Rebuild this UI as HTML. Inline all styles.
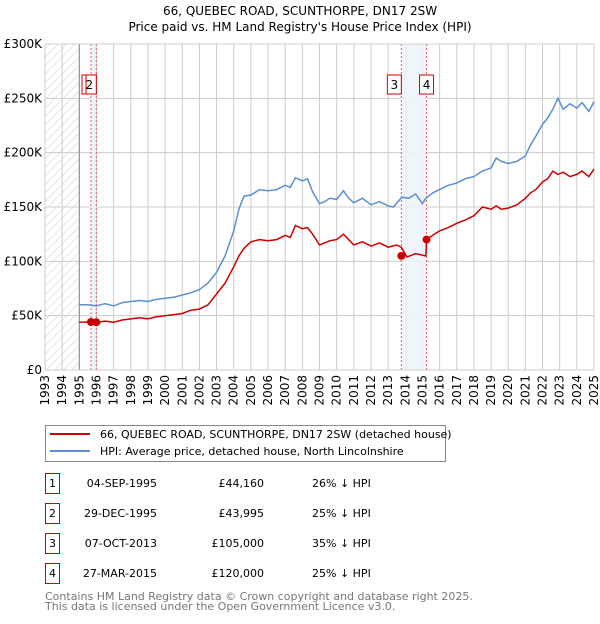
<!DOCTYPE html>
<html><head><meta charset="utf-8"><style>
body{margin:0;background:#fff;width:600px;height:620px;overflow:hidden;font-family:"DejaVu Sans","Liberation Sans",sans-serif}
svg text{font-family:"DejaVu Sans","Liberation Sans",sans-serif}
</style></head><body>
<svg id="c" width="600" height="620"></svg>
<script>
const years=[1993,1995,1997,1999,2001,2003,2005,2007,2009,2011,2013,2015,2017,2019,2021,2023,2025];
const yTicks=[0,50,100,150,200,250,300];
const hpiX=[1995,1995.5,1996,1996.5,1997,1997.5,1998,1998.5,1999,1999.5,2000,2000.5,2001,2001.5,2002,2002.5,2003,2003.5,2004,2004.3,2004.6,2005,2005.5,2006,2006.5,2007,2007.3,2007.6,2008,2008.3,2008.6,2009,2009.3,2009.6,2010,2010.4,2010.7,2011,2011.5,2012,2012.5,2013,2013.3,2013.8,2014.2,2014.6,2015,2015.2,2015.6,2016,2016.5,2017,2017.5,2018,2018.5,2019,2019.3,2019.6,2020,2020.5,2021,2021.3,2021.6,2022,2022.3,2022.6,2022.9,2023.2,2023.6,2024,2024.3,2024.7,2025];
const hpiY=[60,60,59,61,59,62,63,64,63,65,66,67,69,71,74,80,90,105,128,148,160,161,166,165,166,170,168,177,174,176,164,153,155,158,157,165,158,154,158,152,155,151,150,159,158,162,153,158,163,166,170,172,176,178,183,186,195,192,190,192,197,207,215,226,232,240,250,240,245,241,246,238,247];
const ppX=[1995,1995.68,1996,1996.5,1997,1997.5,1998,1998.5,1999,1999.5,2000,2000.5,2001,2001.5,2002,2002.5,2003,2003.5,2004,2004.3,2004.6,2005,2005.5,2006,2006.5,2007,2007.3,2007.6,2008,2008.3,2008.6,2009,2009.3,2009.6,2010,2010.4,2010.7,2011,2011.5,2012,2012.5,2013,2013.5,2013.76,2014.1,2014.6,2015.2,2015.24,2015.6,2016,2016.5,2017,2017.5,2018,2018.5,2019,2019.3,2019.6,2020,2020.5,2021,2021.3,2021.6,2022,2022.3,2022.6,2022.9,2023.2,2023.6,2024,2024.3,2024.7,2025];
const ppY=[44,44.2,44,45,44,46,47,48,47,49,50,51,52,55,56,60,70,80,95,105,112,118,120,119,120,124,122,133,130,131,125,115,117,119,120,125,120,115,118,114,117,113,115,113,104,107,105,120,124,128,131,135,138,142,150,148,151,148,149,152,158,163,166,173,176,183,180,182,178,180,183,178,185];
const saleX=[1995.68,1995.99,2013.77,2015.24];
const saleY=[44.16,43.995,105,120];
const saleLabels=["1","2","3","4"];
const L=45,R=594,T=44,B=370;
const x=v=>L+(v-1993)/(2025-1993)*(R-L);
const y=v=>B-v/300*(B-T);
const NS="http://www.w3.org/2000/svg";
const svg=document.getElementById('c');
function mk(t,a,p){const e=document.createElementNS(NS,t);for(const k in a)e.setAttribute(k,a[k]);(p||svg).appendChild(e);return e;}
const defs=mk('defs',{});
const pat=mk('pattern',{id:'h',width:6,height:6,patternUnits:'userSpaceOnUse',patternTransform:'rotate(45)'},defs);
mk('line',{x1:0,y1:0,x2:0,y2:6,stroke:'#ccc','stroke-width':1},pat);
let t=mk('text',{x:300,y:15,'text-anchor':'middle','font-size':12,fill:'#000'});t.textContent="66, QUEBEC ROAD, SCUNTHORPE, DN17 2SW";

t=mk('text',{x:300,y:31,'text-anchor':'middle','font-size':12,fill:'#000'});t.textContent="Price paid vs. HM Land Registry's House Price Index (HPI)";

let hr=mk('rect',{x:L,y:T,width:x(1995)-L,height:B-T,fill:'url(#h)'});

for(let yr=1993;yr<=2025;yr++){const g=mk('line',{x1:x(yr),x2:x(yr),y1:T,y2:B,stroke:'#ccc','stroke-width':1});}
yTicks.forEach(v=>{const g=mk('line',{x1:L,x2:R,y1:y(v),y2:y(v),stroke:'#ccc','stroke-width':1});
const tl=mk('text',{x:L-3,y:y(v)+4,'text-anchor':'end','font-size':12,fill:'#000'});tl.textContent=v===0?'£0':'£'+v+'K';});
mk('line',{x1:x(1995),x2:x(1995),y1:T,y2:B,stroke:'#888','stroke-width':1});
const b1=mk('rect',{x:x(saleX[0]),y:T,width:x(saleX[1])-x(saleX[0]),height:B-T,fill:'#eef3fb',opacity:0.9});

const b2=mk('rect',{x:x(saleX[2]),y:T,width:x(saleX[3])-x(saleX[2]),height:B-T,fill:'#eef3fb',opacity:0.9});

saleX.forEach((s,i)=>{const l=mk('line',{x1:x(s),x2:x(s),y1:T,y2:B,stroke:'#e06060','stroke-width':1,'stroke-dasharray':'2,2'});});
mk('rect',{x:L,y:T,width:R-L,height:B-T,fill:'none',stroke:'#ccc'});
years.forEach(yr=>{const tl=mk('text',{'font-size':12,fill:'#000','text-anchor':'end',transform:`translate(${x(yr)+4},${B+5}) rotate(-90)`});tl.textContent=yr;});
for(let yr=1994;yr<=2024;yr+=2){const tl=mk('text',{'font-size':12,fill:'#000','text-anchor':'end',transform:`translate(${x(yr)+4},${B+5}) rotate(-90)`});tl.textContent=yr;}
const hp=mk('path',{d:hpiX.map((v,i)=>(i?'L':'M')+x(v).toFixed(1)+','+y(hpiY[i]).toFixed(1)).join(''),fill:'none',stroke:'#5b8fd0','stroke-width':1.5});

const pp=mk('path',{d:ppX.map((v,i)=>(i?'L':'M')+x(v).toFixed(1)+','+y(ppY[i]).toFixed(1)).join(''),fill:'none',stroke:'#cc0000','stroke-width':1.5});

saleX.forEach((s,i)=>{const c=mk('circle',{cx:x(s),cy:y(saleY[i]),r:4,fill:'#cc0000'});});
[1,2,3].forEach(i=>{const g=mk('g',{});
const xx=i===3?x(saleX[3])-7:x(saleX[i])-14;mk('rect',{x:xx,y:75,width:14,height:19,fill:'#fff',stroke:'#cc0000'},g);const tt=mk('text',{x:xx+7,y:89,'text-anchor':'middle','font-size':12,fill:'#000'},g);tt.textContent=saleLabels[i];});
mk('rect',{x:82,y:75,width:4,height:19,fill:'#fff',stroke:'#cc0000'});
const lg=mk('g',{});
mk('rect',{x:45.5,y:425.5,width:400,height:36,fill:'#fff',stroke:'#888'},lg);
mk('line',{x1:50,x2:90,y1:434,y2:434,stroke:'#cc0000','stroke-width':2},lg);
t=mk('text',{x:100,y:438,'font-size':11,fill:'#000'},lg);t.textContent="66, QUEBEC ROAD, SCUNTHORPE, DN17 2SW (detached house)";

mk('line',{x1:50,x2:90,y1:451,y2:451,stroke:'#5b8fd0','stroke-width':2},lg);
t=mk('text',{x:100,y:455,'font-size':11,fill:'#000'},lg);t.textContent="HPI: Average price, detached house, North Lincolnshire";

const dates=["04-SEP-1995","29-DEC-1995","07-OCT-2013","27-MAR-2015"];
const prices=["£44,160","£43,995","£105,000","£120,000"];
const pcts=["26% ↓ HPI","25% ↓ HPI","35% ↓ HPI","25% ↓ HPI"];
dates.forEach((d,i)=>{const cy=483+i*30;const g=mk('g',{});
mk('rect',{x:45.5,y:cy-9.5,width:14,height:20,fill:'#fff',stroke:'#cc0000'},g);
let a=mk('text',{x:52.5,y:cy+4,'text-anchor':'middle','font-size':11},g);a.textContent=i+1;
a=mk('text',{x:157,y:cy+4,'text-anchor':'end','font-size':11},g);a.textContent=d;
a=mk('text',{x:264,y:cy+4,'text-anchor':'end','font-size':11},g);a.textContent=prices[i];
a=mk('text',{x:312,y:cy+4,'font-size':11},g);a.textContent=pcts[i];});
t=mk('text',{x:45,y:600,'font-size':11,fill:'#777'});t.textContent="Contains HM Land Registry data © Crown copyright and database right 2025.";

t=mk('text',{x:45,y:610,'font-size':11,fill:'#777'});t.textContent="This data is licensed under the Open Government Licence v3.0.";

</script>
</body></html>
